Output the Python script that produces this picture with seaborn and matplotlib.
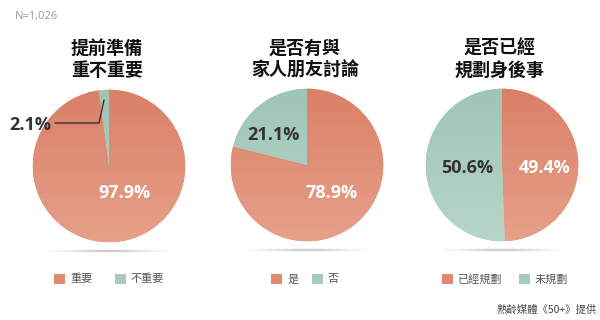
import numpy as np
import matplotlib
matplotlib.use("Agg")
import matplotlib.pyplot as plt
from matplotlib.lines import Line2D
from matplotlib.colors import LinearSegmentedColormap
import seaborn as sns

# ---- data ----
titles = ["提前準備\n重不重要", "是否有與\n家人朋友討論", "是否已經\n規劃身後事"]
legend_labels = [["重要", "不重要"], ["是", "否"], ["已經規劃", "未規劃"]]
values_q1 = [97.9, 2.1]
values_q2 = [78.9, 21.1]
values_q3 = [49.4, 50.6]
all_values = [values_q1, values_q2, values_q3]
sample_note = "N=1,026"
source_note = "熟齡媒體《50+》提供"

# ---- style ----
sns.set_theme(style="white")
plt.rcParams['font.family'] = ['Noto Sans CJK TC', 'DejaVu Sans']

salmon_top, salmon_bot = "#DA8067", "#E7A089"
green_top, green_bot = "#9FC5B5", "#B6D6C8"
salmon_mid, green_mid = "#DF8B72", "#A7CBBB"
palette = sns.color_palette([salmon_mid, green_mid])

W, H = 600, 320
fig = plt.figure(figsize=(W / 100, H / 100), dpi=100)
fig.patch.set_facecolor("white")

def fx(x):
    return x / W

def fy(y):
    return 1 - y / H

centers = [(109, 166), (307, 165), (502, 165)]
R = 77

# label pixel positions: (orange label, green label)
label_pos = [((124, 193), (30, 125)), ((332, 193), (273, 135)), ((545, 168), (467, 168))]
label_colors = ["white", "#333333"]
legend_centers = [109, 305, 505]
legend_colspacing = [2.0, 1.2, 1.45]

for i, vals in enumerate(all_values):
    cx, cy = centers[i]
    # shadow under pie
    sax = fig.add_axes([fx(cx - 60), fy(cy + R + 13), fx(120), 10 / H])
    xs = np.linspace(-1, 1, 200)
    ys = np.linspace(-1, 1, 30)
    X, Y = np.meshgrid(xs, ys)
    a = np.exp(-(X ** 2) * 2.5) * np.exp(-(Y ** 2) / 0.04) * 0.5
    img = np.zeros((30, 200, 4))
    img[..., :3] = 0.45
    img[..., 3] = a
    sax.imshow(img, extent=[-1, 1, -1, 1], aspect="auto")
    sax.set_axis_off()

    ax = fig.add_axes([fx(cx - R), fy(cy + R), fx(2 * R), 2 * R / H])
    wedges, _ = ax.pie(vals, colors=palette, startangle=90, counterclock=False,
                       radius=1, wedgeprops=dict(linewidth=0))
    grads = [(salmon_top, salmon_bot), (green_top, green_bot)]
    for w, (ct, cb) in zip(wedges, grads):
        cmap = LinearSegmentedColormap.from_list("g", [ct, cb])
        g = np.linspace(0, 1, 256).reshape(-1, 1)
        im = ax.imshow(g, cmap=cmap, extent=[-1, 1, -1, 1], aspect="auto",
                       zorder=w.get_zorder() + 0.1, origin="upper")
        im.set_clip_path(w)
    ax.set_xlim(-1.01, 1.01)
    ax.set_ylim(-1.01, 1.01)
    ax.set_aspect("equal")
    ax.set_axis_off()

    # percentage labels
    for j, v in enumerate(vals):
        px, py = label_pos[i][j]
        fig.text(fx(px), fy(py), f"{v}%", ha="center", va="center",
                 fontsize=13, fontweight="bold", color=label_colors[j],
                 family=["Open Sans", "DejaVu Sans"])

    # title
    fig.text(fx(cx - 2), fy(59), titles[i], ha="center", va="center",
             fontsize=13, fontweight="bold", color="#111111",
             linespacing=1.2)

    # legend
    ax.legend(wedges, legend_labels[i], loc="center",
              bbox_to_anchor=(fx(legend_centers[i]), fy(279)),
              bbox_transform=fig.transFigure, ncol=2, frameon=False,
              handlelength=1.0, handleheight=1.0, handletextpad=0.45,
              columnspacing=legend_colspacing[i], labelcolor="#555555",
              prop=dict(size=8, family=['Noto Sans CJK TC', 'DejaVu Sans']))

# leader line for the small slice
fig.add_artist(Line2D([fx(55), fx(99), fx(104)], [fy(123), fy(123), fy(100)],
                      color="#333333", linewidth=1.0))

fig.text(fx(15), fy(17), sample_note, ha="left", va="center", fontsize=8,
         color="#9a9a9a", family=["Open Sans", "DejaVu Sans"])
fig.text(fx(597), fy(310), source_note, ha="right", va="center", fontsize=7.5,
         color="#444444")

fig.savefig("out.png", dpi=100, facecolor="white")
